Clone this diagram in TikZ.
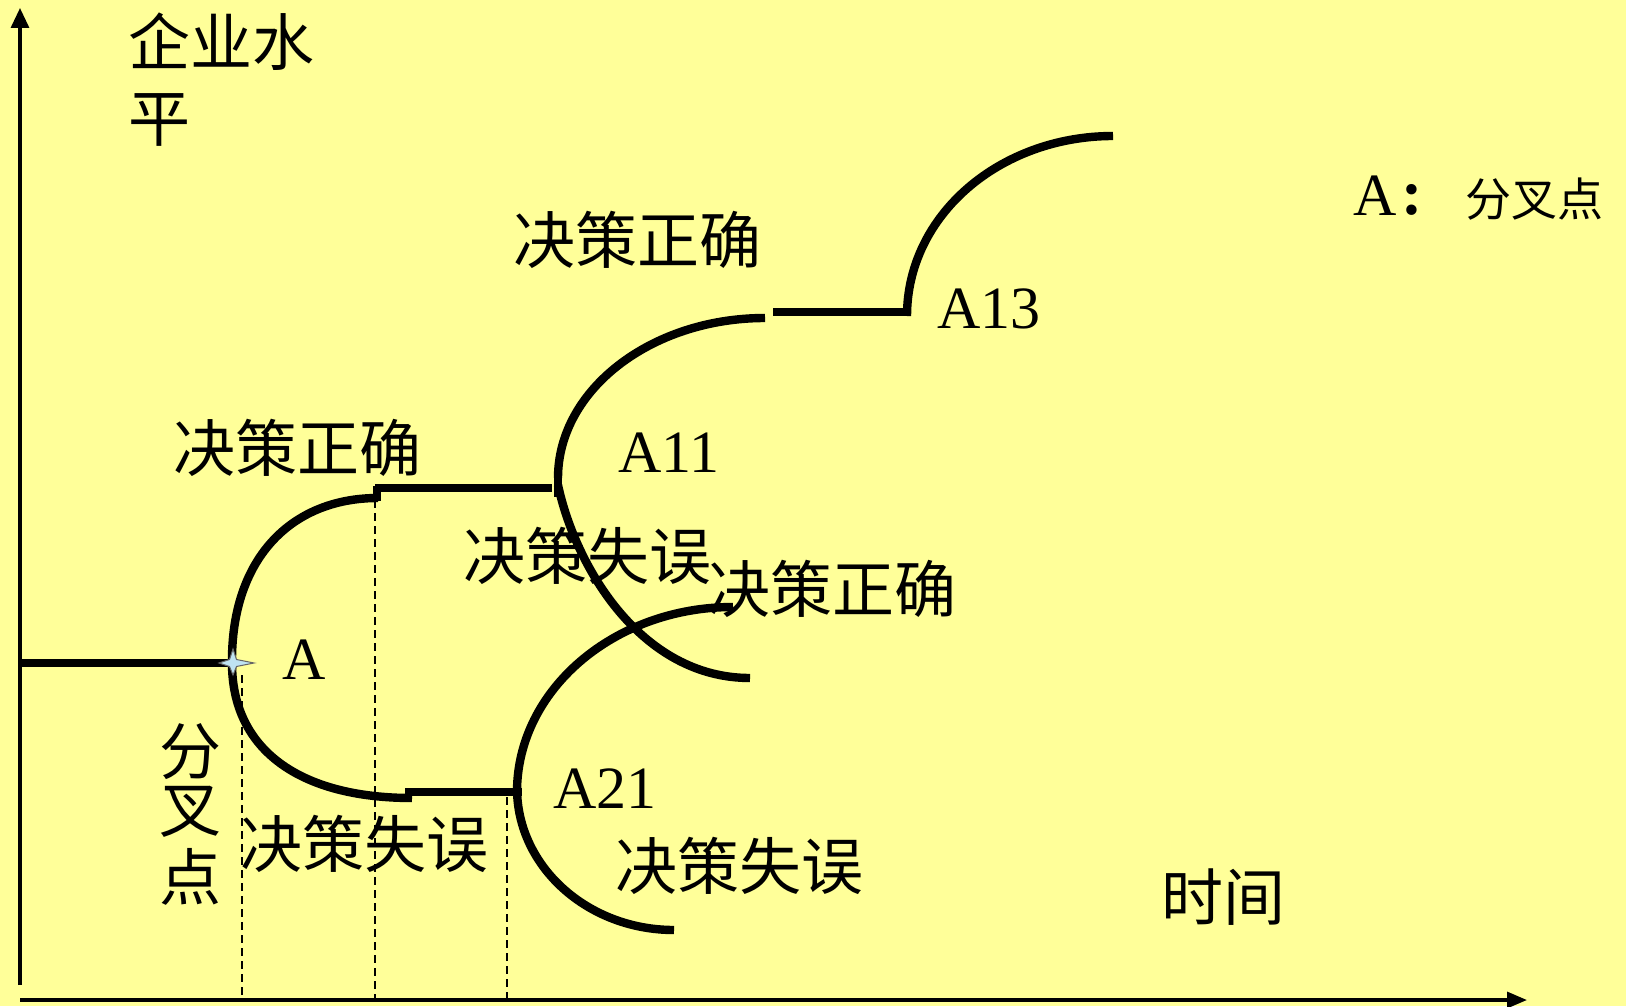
\documentclass[tikz,border=0pt]{standalone}
\usepackage{fontspec}
\setmainfont{Liberation Serif}
\newfontfamily\cjk{Noto Sans CJK SC}
\usetikzlibrary{arrows.meta}
\definecolor{bgyellow}{HTML}{FFFF99}
\definecolor{starblue}{HTML}{BFE3F2}
\tikzset{
  curve/.style={line width=4.2pt, black},
  axisline/.style={line width=1.6pt, black},
  guide/.style={line width=0.6pt, black, dash pattern=on 4pt off 2.5pt},
  cjklabel/.style={font=\cjk\fontsize{31}{31}\selectfont, anchor=west, inner sep=0pt},
  latinlabel/.style={font=\fontsize{30}{30}\selectfont, anchor=base west, inner sep=0pt},
}
\begin{document}
\begin{tikzpicture}[x=0.5pt,y=-0.5pt]
\fill[bgyellow] (0,0) rectangle (1626,1006);
\useasboundingbox (0,0) rectangle (1626,1006);

% axes
\draw[axisline,-{Triangle[width=9pt,length=10pt]}] (20,985) -- (20,8);
\draw[axisline,-{Triangle[width=8pt,length=10pt]}] (20,1000) -- (1527,1000);

% dashed guides
\draw[guide] (242,675) -- (242,1000);
\draw[guide] (375,500) -- (375,1000);
\draw[guide] (507,797) -- (507,1000);

% path before A
\draw[curve] (20,663) -- (232,663);
% branch at A
\draw[curve] (232,663) .. controls (231,560) and (290,498) .. (378,498);
\draw[curve] (377,501) -- (377,486);
\draw[curve] (375,488) -- (552,488);
\draw[curve] (232,663) .. controls (232,750) and (300,798) .. (412,798);
\draw[curve] (405,792) -- (522,792);
% branch at A21
\draw[curve] (517,792) .. controls (517,690) and (614,607) .. (733,607);
\draw[curve] (517,788) .. controls (517,867) and (588,930) .. (674,930);
% branch at A11
\draw[curve] (558,470) -- (558,497);
\draw[curve] (558,478) .. controls (558,390) and (651,318) .. (765,318);
\draw[curve] (558,485) .. controls (575,565) and (640,678) .. (750,678);
% A13
\draw[curve] (773,312) -- (905,312);
\draw[curve] (907,316) .. controls (907,215) and (1000,136) .. (1113,136);

% star at the fork point
\filldraw[fill=starblue, draw=black!60, line width=0.5pt]
  (233,663) +(-14,0) -- +(-3.5,-3.5) -- +(0,-14) -- +(3.5,-3.5) -- +(21,0)
  -- +(3.5,3.5) -- +(0,12) -- +(-3.5,3.5) -- cycle;

% labels
\node[cjklabel] (ylab1) at (128,42) {企业水};
\node[cjklabel] (ylab2) at (128,120) {平};
\node[cjklabel] (ok1) at (513,240) {决策正确};
\node[cjklabel] (ok2) at (173,448) {决策正确};
\node[cjklabel] (err1) at (463,556) {决策失误};
\node[cjklabel] (ok3) at (708,589) {决策正确};
\node[cjklabel] (err2) at (240,844) {决策失误};
\node[cjklabel] (err3) at (615,866) {决策失误};
\node[cjklabel] (xlab) at (1161,897) {时间};
\node[cjklabel] (fork1) at (159,752) {分};
\node[cjklabel] (fork2) at (159,812) {叉};
\node[cjklabel] (fork3) at (159,877) {点};

\node[latinlabel] (labA) at (282,679) {A};
\node[latinlabel] (labA11) at (618,472) {A11};
\node[latinlabel] (labA13) at (937,328) {A13};
\node[latinlabel] (labA21) at (553,808) {A21};

% legend
\node[latinlabel] (legA) at (1353,215) {A};
\node[font=\bfseries\fontsize{32}{32}\selectfont, inner sep=0pt] (legcolon) at (1412,200) {:};
\node[cjklabel, font=\cjk\fontsize{23}{23}\selectfont] (legtext) at (1465,199) {分叉点};
\end{tikzpicture}
\end{document}
